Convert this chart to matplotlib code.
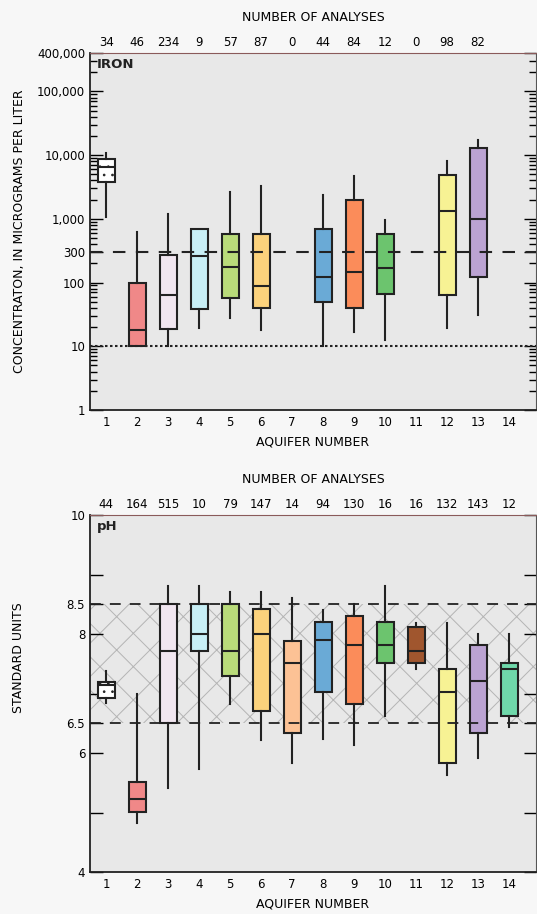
import matplotlib
matplotlib.use('Agg')
from matplotlib import pyplot as plt
from matplotlib.ticker import FixedLocator, LogLocator, NullFormatter

plt.rcParams['font.family'] = ['DejaVu Sans']
plt.rcParams['hatch.linewidth'] = 0.7

aquifers = list(range(1, 15))
box_colors = ['#ffffff', '#f08888', '#f1e6f0', '#c8eff6', '#b9db7a', '#fbd27c', '#fcc295',
              '#6aaad6', '#fb8c5a', '#6cc46e', '#a0562e', '#f7f294', '#bba3d2', '#6fd8aa']

# iron, micrograms per liter (None = no analyses)
iron_counts = ['34', '46', '234', '9', '57', '87', '0', '44', '84', '12', '0', '98', '82', '']
iron_lo  = [1050, 10, 10, 19.5, 28, 18, None, 10, 17, 12.5, None, 19.5, 31, None]
iron_q1  = [3850, 10, 19, 38, 57, 40, None, 50, 40, 67, None, 63, 124, None]
iron_med = [6500, 18, 64, 259, 174, 89, None, 124, 145, 170, None, 1340, 1010, None]
iron_q3  = [8800, 100, 275, 700, 585, 577, None, 685, 1970, 585, None, 4840, 12950, None]
iron_hi  = [10700, 620, 1170, 700, 2670, 3280, None, 2360, 4720, 950, None, 8160, 17500, None]
iron_ticks = [1, 10, 100, 300, 1000, 10000, 100000, 400000]
iron_labels = ['1', '10', '100', '300', '1,000', '10,000', '100,000', '400,000']

# pH, standard units
ph_counts = ['44', '164', '515', '10', '79', '147', '14', '94', '130', '16', '16', '132', '143', '12']
ph_lo  = [6.84, 4.82, 5.41, 5.73, 6.82, 6.22, 5.83, 6.23, 6.13, 6.62, 7.41, 5.63, 5.92, 6.44]
ph_q1  = [6.92, 5.01, 6.50, 7.71, 7.29, 6.71, 6.33, 7.02, 6.82, 7.52, 7.51, 5.83, 6.33, 6.62]
ph_med = [7.14, 5.22, 7.71, 8.00, 7.71, 8.00, 7.51, 7.90, 7.82, 7.82, 7.71, 7.02, 7.21, 7.41]
ph_q3  = [7.20, 5.52, 8.50, 8.50, 8.50, 8.42, 7.89, 8.21, 8.31, 8.21, 8.11, 7.41, 7.82, 7.51]
ph_hi  = [7.38, 7.00, 8.80, 8.80, 8.70, 8.70, 8.60, 8.40, 8.50, 8.80, 8.19, 8.19, 8.00, 8.00]
ph_ticks = [4, 5, 6, 6.5, 7, 8, 8.5, 9, 10]
ph_labels = ['4', '', '6', '6.5', '', '8', '8.5', '', '10']


def draw_boxes(ax, lo, q1, med, q3, hi):
    stats, pos, cols = [], [], []
    for i, a in enumerate(aquifers):
        if med[i] is None:
            continue
        stats.append(dict(whislo=lo[i], q1=q1[i], med=med[i], q3=q3[i], whishi=hi[i], fliers=[]))
        pos.append(a)
        cols.append(box_colors[i])
    bp = ax.bxp(stats, positions=pos, widths=0.55, showcaps=False, showfliers=False,
                patch_artist=True,
                boxprops=dict(edgecolor='#222222', linewidth=1.5),
                medianprops=dict(color='#222222', linewidth=1.5),
                whiskerprops=dict(color='#222222', linewidth=1.5))
    for patch, c in zip(bp['boxes'], cols):
        patch.set_facecolor(c)
        patch.set_zorder(3)
    for ln in bp['medians'] + bp['whiskers']:
        ln.set_zorder(3)
    # aquifer 1 box is stippled in the original
    bp['boxes'][0].set_hatch('..')
    return bp


def style_axis(ax, counts):
    ax.set_facecolor('#e8e8e8')
    ax.set_xlim(0.48, 14.87)
    ax.set_xticks(aquifers)
    ax.set_xticklabels([str(a) for a in aquifers], fontsize=8.5)
    ax.tick_params(axis='x', length=0, pad=4)
    ax.tick_params(axis='y', which='both', direction='in', left=True, right=True,
                   labelsize=8.5, width=1.0)
    ax.tick_params(axis='y', which='major', length=9)
    ax.tick_params(axis='y', which='minor', length=5)
    ax.set_xlabel('AQUIFER NUMBER', fontsize=9, labelpad=5)
    for s in ['left', 'bottom']:
        ax.spines[s].set_linewidth(1.3)
        ax.spines[s].set_color('#222222')
    ax.spines['top'].set_color('#8a5a5a')
    ax.spines['top'].set_linewidth(0.8)
    ax.spines['right'].set_color('#555555')
    ax.spines['right'].set_linewidth(0.8)
    top = ax.secondary_xaxis('top')
    top.set_xticks(aquifers)
    top.set_xticklabels(counts, fontsize=8.5)
    top.tick_params(length=0, pad=3)
    top.set_xlabel('NUMBER OF ANALYSES', fontsize=9, labelpad=11)
    top.spines['top'].set_visible(False)


fig = plt.figure(figsize=(5.37, 9.14), dpi=100, facecolor='#f7f7f7')

# iron panel
ax1 = fig.add_axes([90 / 537, 504 / 914, 446 / 537, 357 / 914])
draw_boxes(ax1, iron_lo, iron_q1, iron_med, iron_q3, iron_hi)
ax1.set_yscale('log')
ax1.set_ylim(1, 400000)
ax1.yaxis.set_major_locator(FixedLocator(iron_ticks))
ax1.set_yticklabels(iron_labels)
ax1.yaxis.set_minor_locator(LogLocator(base=10, subs=range(2, 10), numticks=20))
ax1.yaxis.set_minor_formatter(NullFormatter())
ax1.axhline(300, color='#222222', lw=1.5, ls=(0, (6, 5)), zorder=4)
ax1.axhline(10, color='#222222', lw=1.5, ls=(0, (1.2, 1.2)), zorder=4)
style_axis(ax1, iron_counts)
ax1.set_ylabel('CONCENTRATON, IN MICROGRAMS PER LITER', fontsize=9, labelpad=8)
ax1.text(0.015, 0.985, 'IRON', transform=ax1.transAxes, ha='left', va='top',
         fontsize=9.5, fontweight='bold', color='#222222')

# pH panel
ax2 = fig.add_axes([90 / 537, 42 / 914, 446 / 537, 357 / 914])
ax2.axhspan(6.5, 8.5, facecolor='none', edgecolor='#b4b4b4', hatch='x', lw=0, zorder=1)
draw_boxes(ax2, ph_lo, ph_q1, ph_med, ph_q3, ph_hi)
ax2.set_ylim(4, 10)
ax2.yaxis.set_major_locator(FixedLocator(ph_ticks))
ax2.set_yticklabels(ph_labels)
ax2.axhline(8.5, color='#222222', lw=1.3, ls=(0, (6, 5)), zorder=4)
ax2.axhline(6.5, color='#222222', lw=1.3, ls=(0, (6, 5)), zorder=4)
style_axis(ax2, ph_counts)
ax2.set_ylabel('STANDARD UNITS', fontsize=9)
ax2.yaxis.set_label_coords(-0.145, 0.6)
ax2.text(0.015, 0.985, 'pH', transform=ax2.transAxes, ha='left', va='top',
         fontsize=9.5, fontweight='bold', color='#222222')

fig.savefig('out.png', dpi=100, facecolor=fig.get_facecolor())
